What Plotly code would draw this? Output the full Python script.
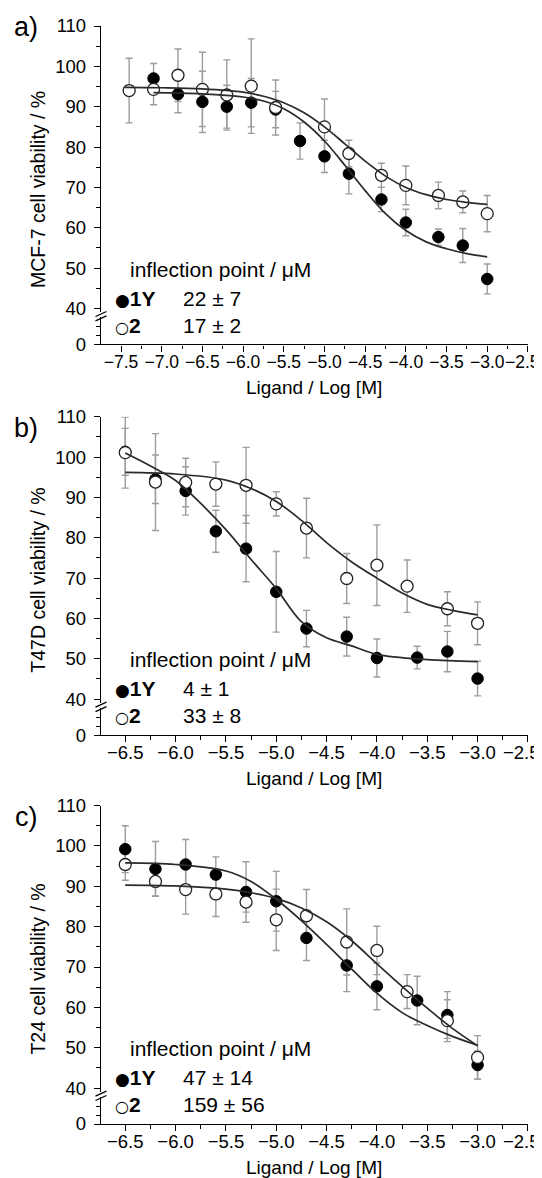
import plotly.graph_objects as go

# ---------------- data ----------------
# Panel a) MCF-7
a_x_1Y = [-7.1, -6.8, -6.5, -6.2, -5.9, -5.6, -5.3, -5.0, -4.7, -4.3, -4.0, -3.6, -3.3, -3.0]
a_y_1Y = [97.0, 93.1, 91.2, 90.0, 91.0, 89.3, 81.5, 77.7, 73.4, 67.0, 61.3, 57.7, 55.6, 47.3]
a_e_1Y = [3.7, 4.6, 7.6, 5.3, 6.0, 4.5, 4.5, 4.0, 5.0, 3.0, 3.3, 2.0, 4.2, 3.7]
a_x_2 = [-7.4, -7.1, -6.8, -6.5, -6.2, -5.9, -5.6, -5.0, -4.7, -4.3, -4.0, -3.6, -3.3, -3.0]
a_y_2 = [94.0, 94.3, 97.8, 94.3, 92.9, 95.1, 89.8, 85.0, 78.4, 73.0, 70.5, 68.0, 66.4, 63.5]
a_e_2 = [8.0, 3.8, 6.5, 9.2, 8.7, 11.7, 6.8, 6.9, 3.3, 3.0, 4.8, 3.3, 2.7, 4.5]
a_fit_x_1Y = [-7.1, -6.5, -6.0, -5.75, -5.5, -5.25, -5.0, -4.75, -4.5, -4.25, -4.0, -3.75, -3.5, -3.25, -3.0]
a_fit_y_1Y = [93.5, 93.2, 92.4, 91.4, 89.5, 86.2, 81.5, 75.5, 69.2, 63.5, 59.3, 56.5, 54.8, 53.6, 52.8]
a_fit_x_2 = [-7.45, -7.0, -6.5, -6.0, -5.75, -5.5, -5.25, -5.0, -4.75, -4.5, -4.25, -4.0, -3.75, -3.5, -3.25, -3.0]
a_fit_y_2 = [94.8, 94.7, 94.4, 93.6, 92.6, 91.0, 88.5, 85.0, 80.8, 76.5, 72.8, 70.0, 68.2, 67.0, 66.3, 65.8]

# Panel b) T47D
b_x_1Y = [-6.5, -6.2, -5.9, -5.6, -5.3, -5.0, -4.7, -4.3, -4.0, -3.6, -3.3, -3.0]
b_y_1Y = [101.3, 94.5, 91.6, 81.6, 77.3, 66.6, 57.5, 55.5, 50.2, 50.3, 51.8, 45.1]
b_e_1Y = [5.8, 6.0, 6.0, 5.2, 8.2, 10.0, 4.5, 4.8, 4.7, 2.8, 5.0, 4.3]
b_x_2 = [-6.5, -6.2, -5.9, -5.6, -5.3, -5.0, -4.7, -4.3, -4.0, -3.7, -3.3, -3.0]
b_y_2 = [101.1, 93.8, 93.7, 93.3, 93.0, 88.4, 82.4, 69.9, 73.2, 68.0, 62.4, 58.8]
b_e_2 = [8.8, 12.0, 6.0, 5.5, 9.4, 3.0, 7.4, 6.2, 10.0, 6.5, 4.2, 5.3]
b_fit_x_1Y = [-6.5, -6.25, -6.0, -5.75, -5.5, -5.25, -5.0, -4.75, -4.5, -4.25, -4.0, -3.5, -3.0]
b_fit_y_1Y = [101.0, 97.8, 94.2, 88.5, 82.0, 74.6, 67.4, 59.2, 55.2, 53.2, 51.1, 49.8, 49.3]
b_fit_x_2 = [-6.5, -6.0, -5.5, -5.25, -5.0, -4.75, -4.5, -4.25, -4.0, -3.75, -3.5, -3.25, -3.0]
b_fit_y_2 = [96.2, 95.8, 94.3, 92.2, 89.0, 84.3, 78.8, 74.0, 70.0, 66.3, 63.5, 62.0, 60.9]

# Panel c) T24
c_x_1Y = [-6.5, -6.2, -5.9, -5.6, -5.3, -5.0, -4.7, -4.3, -4.0, -3.6, -3.3, -3.0]
c_y_1Y = [99.2, 94.3, 95.4, 92.9, 88.6, 86.3, 77.2, 70.4, 65.2, 61.7, 58.1, 45.7]
c_e_1Y = [5.8, 6.8, 6.2, 4.4, 7.5, 7.4, 5.6, 6.5, 5.8, 6.0, 5.8, 3.5]
c_x_2 = [-6.5, -6.2, -5.9, -5.6, -5.3, -5.0, -4.7, -4.3, -4.0, -3.7, -3.3, -3.0]
c_y_2 = [95.4, 91.2, 89.2, 88.1, 86.1, 81.7, 82.7, 76.2, 74.1, 63.9, 56.7, 47.6]
c_e_2 = [3.9, 3.6, 6.1, 5.6, 2.5, 7.6, 6.5, 8.2, 6.0, 4.2, 5.2, 5.4]
c_fit_x_1Y = [-6.5, -6.0, -5.5, -5.25, -5.0, -4.75, -4.5, -4.25, -4.0, -3.75, -3.5, -3.25, -3.0]
c_fit_y_1Y = [95.8, 95.4, 93.8, 91.2, 86.8, 81.5, 75.6, 69.5, 63.5, 58.7, 55.5, 52.8, 50.6]
c_fit_x_2 = [-6.5, -6.0, -5.5, -5.25, -5.0, -4.75, -4.5, -4.25, -4.0, -3.75, -3.5, -3.25, -3.0]
c_fit_y_2 = [90.3, 90.1, 89.3, 88.4, 87.0, 84.6, 81.2, 76.5, 70.8, 65.2, 59.8, 54.8, 50.5]

# x tick labels (the last one, at the page edge, is written as a right-aligned note)
a_xticks = [-7.5, -7.0, -6.5, -6.0, -5.5, -5.0, -4.5, -4.0, -3.5, -3.0, -2.5]
a_xticktext = ["−7.5", "−7.0", "−6.5", "−6.0", "−5.5", "−5.0", "−4.5", "−4.0", "−3.5", "−3.0", ""]
bc_xticks = [-6.5, -6.0, -5.5, -5.0, -4.5, -4.0, -3.5, -3.0, -2.5]
bc_xticktext = ["−6.5", "−6.0", "−5.5", "−5.0", "−4.5", "−4.0", "−3.5", "−3.0", ""]
last_xtick_label = "−2.5"

panel_letters = ["a)", "b)", "c)"]
y_titles = ["MCF-7 cell viability / %", "T47D cell viability / %", "T24 cell viability / %"]
x_title = "Ligand / Log [M]"
ic_title = "inflection point / μM"
ic_1Y = ["22 ± 7", "4 ± 1", "47 ± 14"]
ic_2 = ["17 ± 2", "33 ± 8", "159 ± 56"]
x_ticks = [(a_xticks, a_xticktext), (bc_xticks, bc_xticktext), (bc_xticks, bc_xticktext)]
x_first_tick = [-7.5, -6.5, -6.5]
x_ranges = [[-7.746, -2.499], [-6.741, -2.499], [-6.741, -2.499]]
x_tick_font = [17.5, 18.5, 18.5]

panels = [
    (a_x_1Y, a_y_1Y, a_e_1Y, a_x_2, a_y_2, a_e_2, a_fit_x_1Y, a_fit_y_1Y, a_fit_x_2, a_fit_y_2),
    (b_x_1Y, b_y_1Y, b_e_1Y, b_x_2, b_y_2, b_e_2, b_fit_x_1Y, b_fit_y_1Y, b_fit_x_2, b_fit_y_2),
    (c_x_1Y, c_y_1Y, c_e_1Y, c_x_2, c_y_2, c_e_2, c_fit_x_1Y, c_fit_y_1Y, c_fit_x_2, c_fit_y_2),
]

# ---------------- layout geometry ----------------
# the page body has an 8 px margin, so the figure starts at page (8, 8)
OFF = 8
PAGE_W, PAGE_H = 542, 1178
W, H = PAGE_W - OFF, PAGE_H - OFF
AX_L, AX_R, AX_T, AX_B = 101, 528, 26, 1124.0     # page px of the plotting region
ML, MR, MT, MB = AX_L - OFF, W - (AX_R - OFF), AX_T - OFF, H - (AX_B - OFF)
PW, PH = W - ML - MR, H - MT - MB
FONT = "Liberation Sans, Arial, sans-serif"
BAR_C = "#9d9d9d"
LINE_C = "#2a2a2a"


def py(page_y):
    return 1 - (page_y - AX_T) / PH


def pxx(page_x):
    return (page_x - AX_L) / PW


tops = [26.0, 416.7, 805.6]
K = 4.035          # px per % on upper segment
FULL = 318.4       # px from 110 to 0
LOWH = 27.0        # px height of lower segment

fig = go.Figure()
layout = dict(
    width=W, height=H, autosize=False,
    margin=dict(l=ML, r=MR, t=MT, b=MB, pad=0, autoexpand=False),
    paper_bgcolor="white", plot_bgcolor="white",
    showlegend=False,
    font=dict(family=FONT, size=18, color="black"),
)
annotations = []
shapes = []

for i, (x1, y1, e1, x2, y2, e2, fx1, fy1, fx2, fy2) in enumerate(panels):
    xn = "x" if i == 0 else f"x{i + 1}"
    ylow_n = "y" if i == 0 else f"y{2 * i + 1}"
    yup_n = f"y{2 * i + 2}"
    top = tops[i]

    # register the lower (0) segment subplot so the x axis anchors to it
    fig.add_trace(go.Scatter(x=[x1[0]], y=[0], mode="markers", xaxis=xn, yaxis=ylow_n,
                             marker=dict(size=1, color="rgba(0,0,0,0)"), hoverinfo="skip"))

    # error bars underneath everything
    for xs, ys, es in ((x1, y1, e1), (x2, y2, e2)):
        fig.add_trace(go.Scatter(
            x=xs, y=ys, mode="markers", xaxis=xn, yaxis=yup_n,
            marker=dict(size=2, color="rgba(0,0,0,0)"),
            error_y=dict(type="data", array=es, visible=True, color=BAR_C,
                         thickness=1.4, width=3.5),
            hoverinfo="skip"))
    # filled markers (1Y)
    fig.add_trace(go.Scatter(
        x=x1, y=y1, mode="markers", xaxis=xn, yaxis=yup_n, name="1Y",
        marker=dict(size=11.5, color="black", line=dict(color="black", width=1))))
    # open markers (2)
    fig.add_trace(go.Scatter(
        x=x2, y=y2, mode="markers", xaxis=xn, yaxis=yup_n, name="2",
        marker=dict(size=12, color="white", line=dict(color="#222222", width=1.3))))
    # fitted curves
    for fx, fy in ((fx1, fy1), (fx2, fy2)):
        fig.add_trace(go.Scatter(
            x=fx, y=fy, mode="lines", xaxis=xn, yaxis=yup_n,
            line=dict(color=LINE_C, width=1.7, shape="spline", smoothing=1.0),
            hoverinfo="skip"))

    up_bot = top + 71 * K
    low_bot = top + FULL
    low_top = low_bot - LOWH

    xkey = "xaxis" if i == 0 else f"xaxis{i + 1}"
    ylowkey = "yaxis" if i == 0 else f"yaxis{2 * i + 1}"
    yupkey = f"yaxis{2 * i + 2}"

    tv, tt = x_ticks[i]
    layout[xkey] = dict(
        domain=[0, 1], anchor=ylow_n, range=x_ranges[i], automargin=False,
        tickmode="array", tickvals=tv, ticktext=tt, tickangle=0,
        ticks="outside", ticklen=6, tickwidth=1.3, tickcolor="black",
        minor=dict(dtick=0.25, tick0=x_first_tick[i], ticks="outside", ticklen=3.5,
                   tickwidth=1.3, tickcolor="black"),
        showline=True, linecolor="black", linewidth=1.3,
        showgrid=False, zeroline=False, fixedrange=True,
        ticklabeloverflow="allow", ticklabelstandoff=-5,
        tickfont=dict(size=x_tick_font[i], family=FONT),
    )
    layout[ylowkey] = dict(
        domain=[py(low_bot), py(low_top)], anchor=xn, range=[0, 15], automargin=False,
        tickmode="array", tickvals=[0], ticktext=["0"],
        ticks="outside", ticklen=6, tickwidth=1.3, tickcolor="black",
        minor=dict(tickmode="array", tickvals=[5, 10], ticks="outside", ticklen=3.5,
                   tickwidth=1.3, tickcolor="black"),
        showline=True, linecolor="black", linewidth=1.3,
        showgrid=False, zeroline=False, fixedrange=True,
        ticklabelstandoff=4, ticklabeloverflow="allow",
        tickfont=dict(size=18.5, family=FONT),
    )
    layout[yupkey] = dict(
        domain=[py(up_bot), py(top)], anchor=xn, range=[39, 110], automargin=False,
        tickmode="linear", tick0=0, dtick=10,
        ticks="outside", ticklen=6, tickwidth=1.3, tickcolor="black",
        minor=dict(dtick=5, tick0=0, ticks="outside", ticklen=3.5,
                   tickwidth=1.3, tickcolor="black"),
        showline=True, linecolor="black", linewidth=1.3,
        showgrid=False, zeroline=False, fixedrange=True,
        ticklabelstandoff=4, ticklabeloverflow="allow",
        tickfont=dict(size=18.5, family=FONT),
    )

    # axis break marks
    for yy in (up_bot + 1.5, low_top + 1.0):
        shapes.append(dict(type="line", xref="paper", yref="paper",
                           x0=pxx(95.5), x1=pxx(106.5), y0=py(yy + 2.5), y1=py(yy - 2.5),
                           line=dict(color="black", width=1.3)))

    # last x tick label, kept inside the page
    annotations.append(dict(text=last_xtick_label, xref="paper", yref="paper",
                            x=pxx(541.5), y=py(low_bot + 17.5),
                            xanchor="right", yanchor="middle", showarrow=False,
                            font=dict(size=x_tick_font[i], family=FONT)))
    # x title
    annotations.append(dict(text=x_title, xref="paper", yref="paper",
                            x=pxx(314), y=py(low_bot + 43),
                            xanchor="center", yanchor="middle", showarrow=False,
                            font=dict(size=19, family=FONT)))
    # panel letter
    annotations.append(dict(text=panel_letters[i], xref="paper", yref="paper",
                            x=pxx(26), y=py(top + (1 if i == 0 else 11)),
                            xanchor="center", yanchor="middle", showarrow=False,
                            font=dict(size=27, family=FONT)))
    # y title
    annotations.append(dict(text=y_titles[i], xref="paper", yref="paper",
                            x=pxx(38), y=py(top + 164), textangle=-90,
                            xanchor="center", yanchor="middle", showarrow=False,
                            font=dict(size=19.5, family=FONT)))
    # inflection point block
    annotations.append(dict(text=ic_title, xref="paper", yref="paper",
                            x=pxx(128), y=py(top + 243), xanchor="left", yanchor="middle",
                            showarrow=False, font=dict(size=21, family=FONT)))
    annotations.append(dict(text="<span style='font-family:DejaVu Sans;font-size:17px'>●</span><b>1Y</b>",
                            xref="paper", yref="paper",
                            x=pxx(113), y=py(top + 272), xanchor="left", yanchor="middle",
                            showarrow=False, font=dict(size=21, family=FONT)))
    annotations.append(dict(text=ic_1Y[i], xref="paper", yref="paper",
                            x=pxx(181), y=py(top + 272), xanchor="left", yanchor="middle",
                            showarrow=False, font=dict(size=21, family=FONT)))
    annotations.append(dict(text="<span style='font-family:DejaVu Sans;font-size:16px'>○</span><b>2</b>",
                            xref="paper", yref="paper",
                            x=pxx(113), y=py(top + 299), xanchor="left", yanchor="middle",
                            showarrow=False, font=dict(size=21, family=FONT)))
    annotations.append(dict(text=ic_2[i], xref="paper", yref="paper",
                            x=pxx(181), y=py(top + 299), xanchor="left", yanchor="middle",
                            showarrow=False, font=dict(size=21, family=FONT)))

layout["annotations"] = annotations
layout["shapes"] = shapes
fig.update_layout(**layout)
fig.write_html("out.html")
